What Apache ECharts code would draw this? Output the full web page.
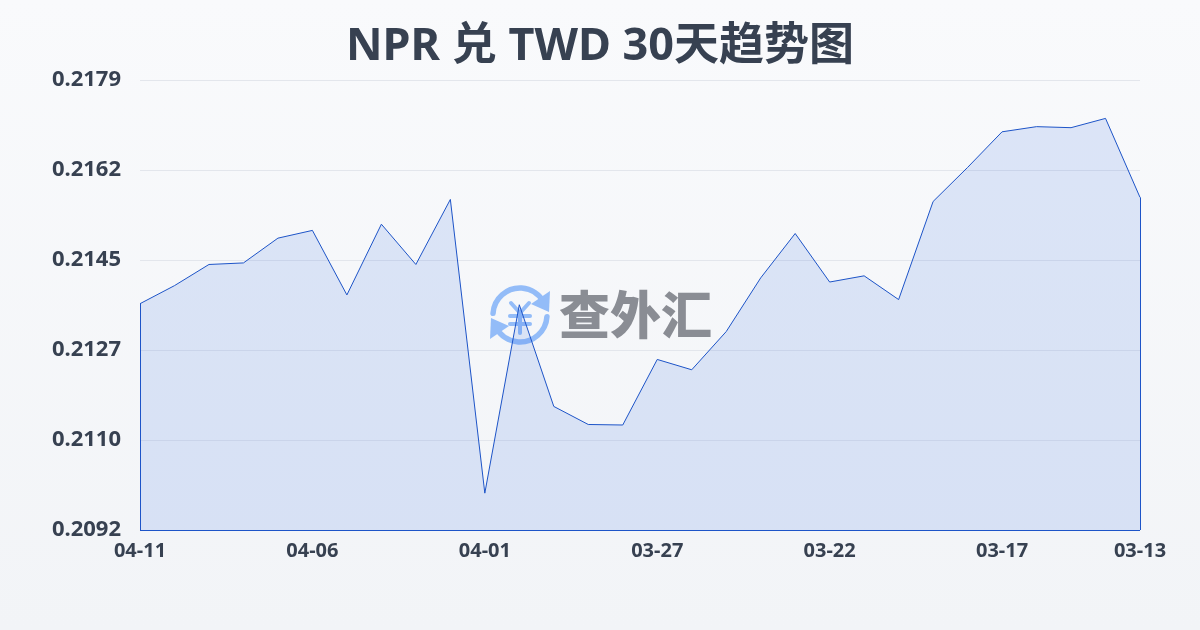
<!DOCTYPE html>
<html><head><meta charset="utf-8">
<style>html,body{margin:0;padding:0}#c{width:1200px;height:630px}</style>
<script src="https://cdn.jsdelivr.net/npm/echarts@6/dist/echarts.min.js"></script>
</head><body><div id="c"></div>
<script>
const titleText = 'NPR 兑 TWD 30天趋势图';
const dates = ['04-11','04-10','04-09','04-08','04-07','04-06','04-05','04-04','04-03','04-02','04-01','03-31','03-30','03-29','03-28','03-27','03-26','03-25','03-24','03-23','03-22','03-21','03-20','03-19','03-18','03-17','03-16','03-15','03-14','03-13'];
const rates = [0.21361,0.21396,0.21437,0.21440,0.21488,0.21503,0.21378,0.21515,0.21437,0.21563,0.20994,0.21359,0.21162,0.21127,0.21126,0.21253,0.21233,0.21307,0.21411,0.21497,0.21403,0.21415,0.21369,0.21559,0.21625,0.21694,0.21704,0.21702,0.21720,0.21567];
const yStep = 0.00174355;
const yMin = 120*yStep, yMax = 125*yStep;
const chart = echarts.init(document.getElementById('c'), null, {renderer:'canvas'});
const font = '"Noto Sans","Noto Sans CJK SC",sans-serif';
const ink = '#374151', blue = '#1d54c8', logoBlue = '#93bcf8', logoGray = '#8a8d94';
const arc = (start,end) => ({type:'arc',z:0,silent:true,shape:{cx:520,cy:315,r:27,startAngle:start,endAngle:end},style:{stroke:logoBlue,lineWidth:5.5,fill:null,lineCap:'round'}});
const seg = (x1,y1,x2,y2) => ({type:'line',z:0,silent:true,shape:{x1,y1,x2,y2},style:{stroke:logoBlue,lineWidth:4,lineCap:'round'}});
chart.setOption({
  animation:false,
  backgroundColor:new echarts.graphic.LinearGradient(0,0,0,1,[{offset:0,color:'#f9fafc'},{offset:1,color:'#f2f4f7'}]),
  title:{text:titleText,left:'center',top:20,textStyle:{fontFamily:font,fontSize:45,fontWeight:'bold',color:ink}},
  grid:{left:140,right:60,top:80,bottom:100},
  graphic:[
    arc(Math.PI*1.02,Math.PI*1.85),
    arc(Math.PI*0.02,Math.PI*0.85),
    {type:'polygon',z:0,silent:true,shape:{points:[[550,291],[549,312],[531,304]]},style:{fill:logoBlue}},
    {type:'polygon',z:0,silent:true,shape:{points:[[490,339],[491,318],[509,326]]},style:{fill:logoBlue}},
    seg(511,303,520,313),seg(529,303,520,313),seg(510,316,530,316),seg(510,324,530,324),seg(520,313,520,333),
    {type:'text',z:0,silent:true,style:{x:559,y:289,text:'查外汇',fontFamily:'"Noto Sans CJK SC",sans-serif',fontSize:51,fontWeight:'900',fill:logoGray}}
  ],
  xAxis:{type:'category',boundaryGap:false,data:dates,
    axisLine:{show:false},
    axisTick:{show:false},
    axisLabel:{fontFamily:font,fontSize:20,fontWeight:'bold',color:ink,margin:11,showMinLabel:true,showMaxLabel:true,hideOverlap:false,
      interval:(i)=>i%5===0||i===dates.length-1}},
  yAxis:{type:'value',min:yMin,max:yMax,interval:yStep,
    axisLine:{show:false},axisTick:{show:false},
    axisLabel:{fontFamily:font,fontSize:22,fontWeight:'bold',color:ink,margin:19,padding:[0,0,4,0],formatter:v=>v.toFixed(4)},
    splitLine:{lineStyle:{color:'#e3e6ec',width:1}}},
  series:[{type:'line',data:rates,symbol:'none',smooth:false,z:2,
    lineStyle:{color:blue,width:1},
    areaStyle:{color:'rgba(50,105,230,0.14)',opacity:1,origin:'start'},
    markLine:{silent:true,symbol:'none',label:{show:false},animation:false,lineStyle:{color:blue,width:1,type:'solid'},
      data:[
        [{coord:[dates[0],rates[0]]},{coord:[dates[0],yMin]}],
        [{coord:[dates[0],yMin]},{coord:[dates[dates.length-1],yMin]}],
        [{coord:[dates[dates.length-1],rates[rates.length-1]]},{coord:[dates[dates.length-1],yMin]}]
      ]}
  }]
});
</script></body></html>
